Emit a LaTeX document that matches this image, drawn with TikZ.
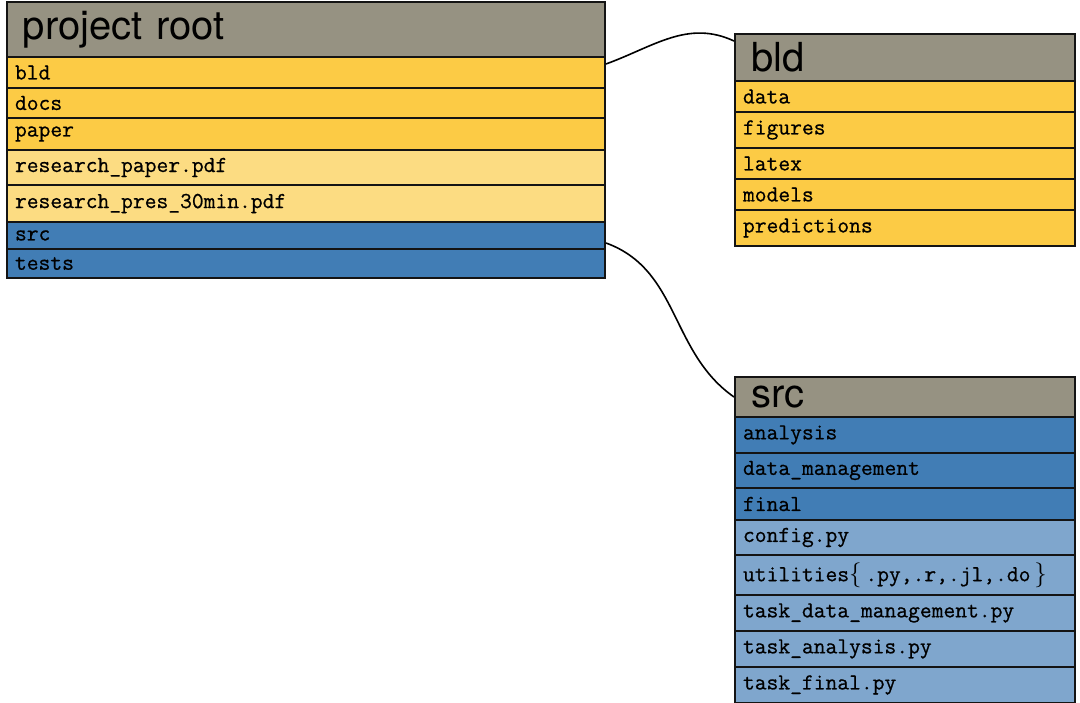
\documentclass[tikz,border=0pt]{standalone}
\usepackage{fontspec}
\setsansfont{TeX Gyre Heros}
\setmonofont{Latin Modern Mono}[FakeBold=0.7]
\begin{document}
\begin{tikzpicture}[x=1pt,y=-1pt,
  hdrgray/.style={fill={rgb,255:red,150;green,146;blue,130}},
  folder/.style={fill={rgb,255:red,252;green,203;blue,69}},
  file/.style={fill={rgb,255:red,252;green,220;blue,130}},
  srcdir/.style={fill={rgb,255:red,65;green,125;blue,181}},
  srcfile/.style={fill={rgb,255:red,127;green,166;blue,205}},
  box/.style={draw={rgb,255:red,20;green,20;blue,20}, line width=2pt, anchor=north west,
    inner ysep=0pt, align=left},
  head/.style={box, hdrgray, inner xsep=16pt, font=\sffamily\fontsize{40}{44}\selectfont},
  cell/.style={box, inner xsep=8pt, font=\ttfamily\fontsize{22.9}{26}\selectfont},
  wide/.style={minimum width=598pt, text width=582pt},
  widehead/.style={minimum width=598pt, text width=566pt},
  narrow/.style={minimum width=340pt, text width=324pt},
  narrowhead/.style={minimum width=340pt, text width=308pt},
  link/.style={draw=black, line width=1.6pt}
]
\useasboundingbox (0,0) rectangle (1080,703);

% project root
\node[head, widehead, minimum height=55pt] (root) at (6,1) {project root};
\node[cell, wide, folder, minimum height=31pt] (r-bld) at (6,56) {bld};
\node[cell, wide, folder, minimum height=30pt] (r-docs) at (6,87) {docs};
\node[cell, wide, folder, minimum height=32pt] (r-paper) at (6,117) {paper};
\node[cell, wide, file, minimum height=35pt] (r-rp) at (6,149) {research\_paper.pdf};
\node[cell, wide, file, minimum height=37pt] (r-rpres) at (6,184) {research\_pres\_30min.pdf};
\node[cell, wide, srcdir, minimum height=27pt] (r-src) at (6,221) {src};
\node[cell, wide, srcdir, minimum height=29pt] (r-tests) at (6,248) {tests};

% bld
\node[head, narrowhead, minimum height=47pt] (bld) at (734,33) {bld};
\node[cell, narrow, folder, minimum height=31pt] (b-data) at (734,80) {data};
\node[cell, narrow, folder, minimum height=36pt] (b-fig) at (734,111) {figures};
\node[cell, narrow, folder, minimum height=31pt] (b-latex) at (734,147) {latex};
\node[cell, narrow, folder, minimum height=31pt] (b-models) at (734,178) {models};
\node[cell, narrow, folder, minimum height=36pt] (b-pred) at (734,209) {predictions};

% src
\node[head, narrowhead, minimum height=40pt] (src) at (734,376) {src};
\node[cell, narrow, srcdir, minimum height=36pt] (s-an) at (734,416) {analysis};
\node[cell, narrow, srcdir, minimum height=35pt] (s-dm) at (734,452) {data\_management};
\node[cell, narrow, srcdir, minimum height=32pt] (s-fin) at (734,487) {final};
\node[cell, narrow, srcfile, minimum height=35pt] (s-cfg) at (734,519) {config.py};
\node[cell, narrow, srcfile, minimum height=40pt] (s-util) at (734,554) {utilities$\{$\,.py,.r,.jl,.do\,$\}$};
\node[cell, narrow, srcfile, minimum height=36pt] (s-tdm) at (734,594) {task\_data\_management.py};
\node[cell, narrow, srcfile, minimum height=36pt] (s-ta) at (734,630) {task\_analysis.py};
\node[cell, narrow, srcfile, minimum height=36pt] (s-tf) at (734,666) {task\_final.py};

% links from folders to their tables
\draw[link] ([yshift=8.5pt]r-bld.east) to[out=20, in=155] ([yshift=16.5pt]bld.west);
\draw[link] ([yshift=-7.5pt]r-src.east) to[out=-20, in=145] (src.west);
\end{tikzpicture}
\end{document}
